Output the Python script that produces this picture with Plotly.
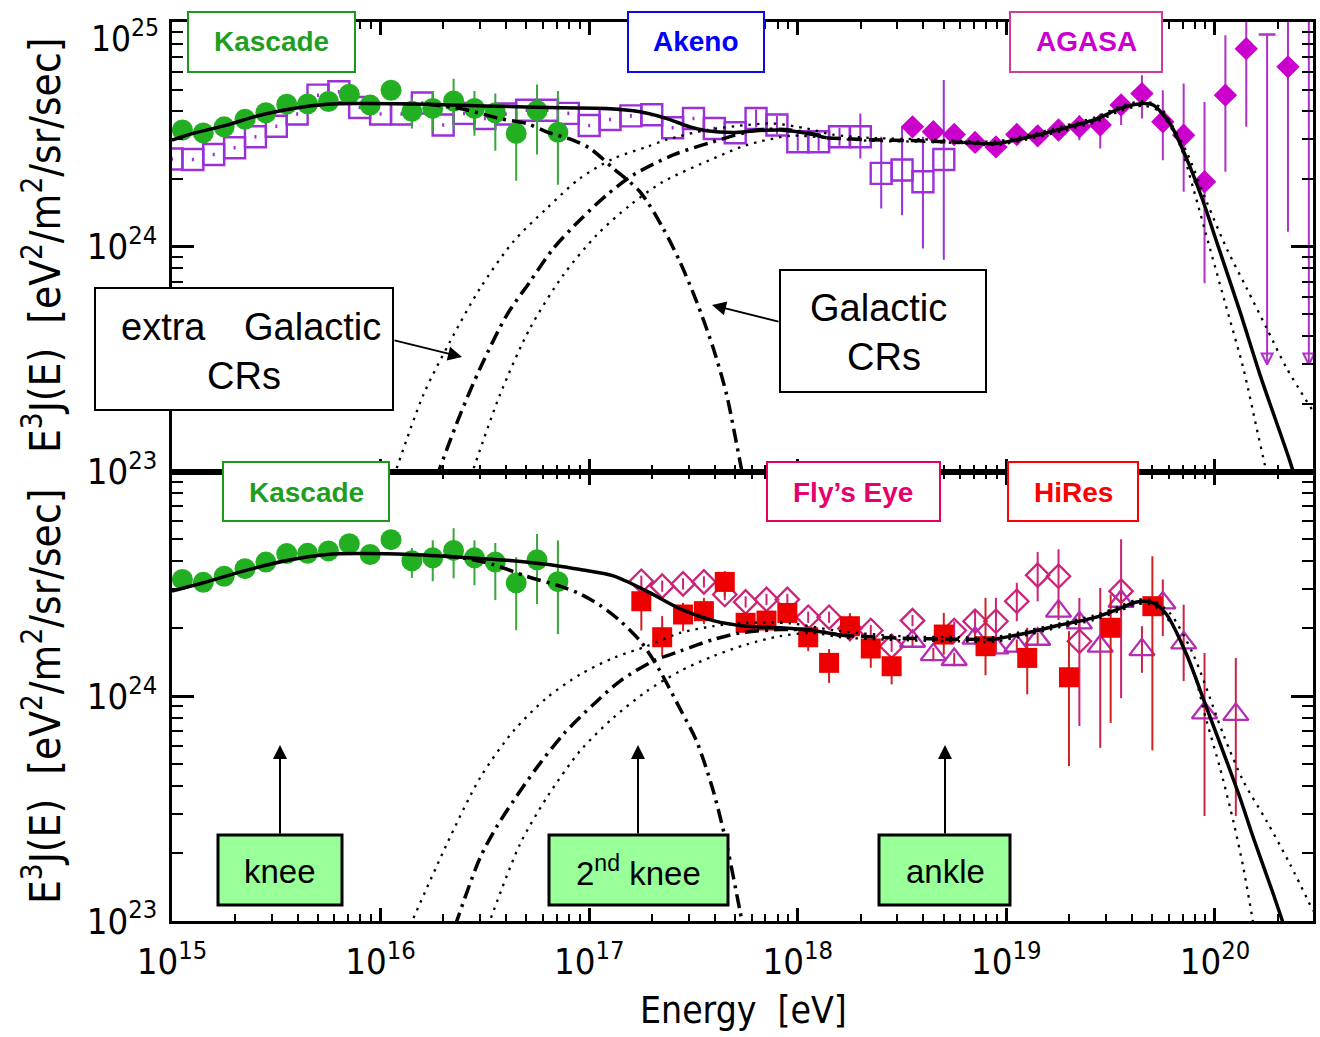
import numpy as np
import plotly.graph_objects as go
from plotly.subplots import make_subplots

# ================= DATA (log10 of E [eV] and log10 of E^3 J(E)) =================
# Kascade (same points in both panels)
kascade_logE = [15.05, 15.15, 15.25, 15.35, 15.45, 15.55, 15.65, 15.75, 15.85, 15.95,
                16.05, 16.15, 16.25, 16.35, 16.45, 16.55, 16.65, 16.75, 16.85]
kascade_logF = [24.519, 24.506, 24.533, 24.567, 24.596, 24.634, 24.635, 24.646, 24.678, 24.630,
                24.696, 24.602, 24.615, 24.648, 24.615, 24.596, 24.504, 24.606, 24.509]
kascade_up = [0, 0, 0, 0, 0, 0, 0, 0, 0, 0,
              0, 0.057, 0.078, 0.099, 0.078, 0.085, 0.114, 0.115, 0.184]
kascade_dn = [0, 0, 0, 0, 0, 0, 0, 0, 0, 0,
              0, 0.076, 0.104, 0.124, 0.122, 0.169, 0.211, 0.196, 0.233]

# Akeno (top panel)
akeno_logE = [15.0, 15.1, 15.2, 15.3, 15.4, 15.5, 15.6, 15.7, 15.8, 15.9,
              16.0, 16.1, 16.2, 16.3, 16.4, 16.5, 16.6, 16.7, 16.8, 16.9,
              17.0, 17.1, 17.2, 17.3, 17.4, 17.5, 17.6, 17.7, 17.8, 17.9,
              18.0, 18.1, 18.2, 18.3, 18.4, 18.5, 18.6, 18.7]
akeno_logF = [24.390, 24.388, 24.410, 24.440, 24.489, 24.536, 24.590, 24.674, 24.689, 24.619,
              24.590, 24.590, 24.639, 24.541, 24.593, 24.570, 24.590, 24.607, 24.607, 24.593,
              24.539, 24.566, 24.582, 24.587, 24.529, 24.570, 24.526, 24.507, 24.570, 24.541,
              24.467, 24.467, 24.489, 24.489, 24.326, 24.341, 24.289, 24.388]
akeno_up = [0.008, 0.008, 0.008, 0.008, 0.008, 0.008, 0.008, 0.008, 0.008, 0.008,
            0.008, 0.008, 0.008, 0.008, 0.008, 0.008, 0.008, 0.008, 0.008, 0.008,
            0.008, 0.008, 0.008, 0.008, 0.008, 0.008, 0.008, 0.008, 0.040, 0.040,
            0.040, 0.040, 0.040, 0.103, 0.163, 0.192, 0.200, 0.354]
akeno_dn = [0.008, 0.008, 0.008, 0.008, 0.008, 0.008, 0.008, 0.008, 0.008, 0.008,
            0.008, 0.008, 0.008, 0.008, 0.008, 0.008, 0.008, 0.008, 0.008, 0.008,
            0.008, 0.008, 0.008, 0.008, 0.008, 0.008, 0.008, 0.008, 0.040, 0.040,
            0.040, 0.040, 0.040, 0.097, 0.156, 0.201, 0.297, 0.446]

# AGASA (top panel)
agasa_logE = [18.55, 18.65, 18.75, 18.85, 18.95, 19.05, 19.15, 19.25, 19.35, 19.45,
              19.55, 19.65, 19.75, 19.85, 19.95, 20.05, 20.15, 20.35]
agasa_logF = [24.533, 24.511, 24.499, 24.464, 24.444, 24.499, 24.493, 24.519, 24.533, 24.541,
              24.630, 24.681, 24.556, 24.496, 24.289, 24.674, 24.881, 24.800]
agasa_up = [0.020, 0.020, 0.020, 0.025, 0.025, 0.030, 0.030, 0.030, 0.052, 0.044,
            0.044, 0.082, 0.140, 0.230, 0.355, 0.267, 0.300, 0.300]
agasa_dn = [0.020, 0.020, 0.020, 0.025, 0.030, 0.030, 0.030, 0.035, 0.059, 0.104,
            0.089, 0.111, 0.171, 0.252, 0.452, 0.341, 0.348, 0.733]
agasa_ul_logE = [20.25, 20.45]
agasa_ul_top = [24.944, 25.05]
agasa_ul_logF = [23.476, 23.476]

# Fly's Eye (bottom panel)
fly_logE = [17.25, 17.35, 17.45, 17.55, 17.65, 17.75, 17.85, 17.95, 18.05, 18.15,
            18.25, 18.35, 18.45, 18.55, 18.75, 18.85, 18.95, 19.05, 19.15, 19.25,
            19.35, 19.55]
fly_logF = [24.511, 24.489, 24.499, 24.508, 24.452, 24.419, 24.430, 24.430, 24.351, 24.351,
            24.301, 24.292, 24.222, 24.336, 24.292, 24.333, 24.333, 24.422, 24.538, 24.533,
            24.244, 24.467]
fly_up = [0.025, 0.025, 0.025, 0.025, 0.025, 0.025, 0.025, 0.025, 0.025, 0.025,
          0.025, 0.025, 0.025, 0.025, 0.040, 0.050, 0.104, 0.082, 0.103, 0.120,
          0.193, 0.231]
fly_dn = [0.025, 0.025, 0.025, 0.025, 0.025, 0.025, 0.025, 0.025, 0.025, 0.025,
          0.025, 0.025, 0.025, 0.025, 0.040, 0.050, 0.102, 0.089, 0.116, 0.142,
          0.377, 0.476]

# HiRes (bottom panel, filled squares)
hires_logE = [17.25, 17.35, 17.45, 17.55, 17.65, 17.75, 17.85, 17.95, 18.05, 18.15,
              18.25, 18.35, 18.45, 18.7, 18.9, 19.1, 19.3, 19.5, 19.7]
hires_logF = [24.422, 24.262, 24.363, 24.378, 24.508, 24.326, 24.336, 24.370, 24.262, 24.148,
              24.311, 24.212, 24.133, 24.274, 24.222, 24.170, 24.084, 24.304, 24.400]
hires_up = [0.067, 0.094, 0.052, 0.059, 0.048, 0.030, 0.030, 0.030, 0.049, 0.061,
            0.058, 0.032, 0.037, 0.096, 0.215, 0.134, 0.205, 0.148, 0.222]
hires_dn = [0.130, 0.084, 0.074, 0.057, 0.064, 0.030, 0.030, 0.030, 0.062, 0.089,
            0.067, 0.086, 0.081, 0.089, 0.129, 0.162, 0.395, 0.423, 0.641]

# HiRes (bottom panel, open triangles)
tri_logE = [18.55, 18.65, 18.75, 18.85, 18.95, 19.05, 19.15, 19.25, 19.35, 19.45,
            19.55, 19.65, 19.75, 19.85, 19.95, 20.1]
tri_logF = [24.244, 24.185, 24.163, 24.258, 24.215, 24.222, 24.253, 24.378, 24.326, 24.222,
            24.422, 24.207, 24.415, 24.237, 23.926, 23.919]
tri_up = [0.03, 0.03, 0.03, 0.03, 0.03, 0.03, 0.03, 0.04, 0.04, 0.259,
          0.06, 0.104, 0.104, 0.170, 0.266, 0.251]
tri_dn = [0.03, 0.03, 0.03, 0.03, 0.03, 0.03, 0.03, 0.04, 0.04, 0.452,
          0.06, 0.103, 0.148, 0.170, 0.459, 0.452]

# ---- model curves, top panel ----
tot_top_a_logE = [15.000, 15.102, 15.262, 15.422, 15.582, 15.742, 15.901, 16.221, 16.540, 16.860,
                  17.084, 17.244, 17.372, 17.483, 17.563, 17.689, 17.803, 17.915, 18.043, 18.139]
tot_top_a_logF = [24.474, 24.504, 24.541, 24.585, 24.615, 24.634, 24.637, 24.634, 24.625, 24.618,
                  24.615, 24.600, 24.570, 24.533, 24.516, 24.508, 24.516, 24.519, 24.504, 24.484]
tot_top_dash_logE = [18.139, 18.346, 18.586, 18.793]
tot_top_dash_logF = [24.484, 24.476, 24.471, 24.464]
tot_top_b_logE = [18.793, 18.953, 19.113, 19.273, 19.433, 19.545, 19.656, 19.704, 19.784, 19.864,
                  19.944, 20.008, 20.120, 20.216, 20.360, 20.407]
tot_top_b_logF = [24.464, 24.459, 24.489, 24.526, 24.568, 24.615, 24.637, 24.630, 24.548, 24.392,
                  24.200, 24.022, 23.711, 23.430, 23.044, 22.900]
gal_top_logE = [16.221, 16.381, 16.572, 16.700, 16.796, 16.922, 17.004, 17.116, 17.244, 17.355,
                17.435, 17.515, 17.595, 17.659, 17.723, 17.742]
gal_top_logF = [24.634, 24.615, 24.570, 24.548, 24.511, 24.474, 24.437, 24.348, 24.244, 24.081,
                23.933, 23.756, 23.548, 23.341, 23.044, 22.956]
exg_top_logE = [16.266, 16.381, 16.477, 16.605, 16.716, 16.828, 16.956, 17.084, 17.211, 17.403,
                17.595, 17.803, 17.963, 18.139]
exg_top_logF = [22.970, 23.252, 23.459, 23.696, 23.844, 23.992, 24.119, 24.230, 24.319, 24.408,
                24.467, 24.519, 24.519, 24.489]
exg_top_hi_logE = [16.064, 16.205, 16.333, 16.477, 16.636, 16.796, 16.956, 17.116, 17.276, 17.372,
                   17.563, 17.755, 17.881, 18.043, 18.169, 18.346, 18.586, 18.792, 18.953, 19.113,
                   19.273, 19.433, 19.545, 19.656, 19.736, 19.784, 19.864, 19.960, 20.056, 20.152,
                   20.248, 20.344, 20.471]
exg_top_hi_logF = [22.978, 23.341, 23.578, 23.815, 24.022, 24.170, 24.304, 24.392, 24.444, 24.476,
                   24.519, 24.541, 24.548, 24.526, 24.498, 24.484, 24.478, 24.471, 24.469, 24.498,
                   24.536, 24.578, 24.624, 24.647, 24.622, 24.556, 24.422, 24.200, 23.992, 23.815,
                   23.637, 23.459, 23.267]
exg_top_lo_logE = [16.433, 16.572, 16.716, 16.876, 17.036, 17.196, 17.355, 17.595, 17.755, 17.963,
                   18.139, 18.346, 18.586, 18.792, 18.953, 19.113, 19.273, 19.433, 19.545, 19.656,
                   19.736, 19.832, 19.896, 19.976, 20.056, 20.136, 20.200, 20.232, 20.257]
exg_top_lo_logF = [22.978, 23.341, 23.637, 23.874, 24.052, 24.185, 24.289, 24.392, 24.452, 24.493,
                   24.484, 24.471, 24.467, 24.460, 24.453, 24.480, 24.516, 24.556, 24.604, 24.627,
                   24.600, 24.452, 24.259, 23.992, 23.726, 23.459, 23.192, 23.059, 22.956]

# ---- model curves, bottom panel ----
tot_bot_a_logE = [15.000, 15.150, 15.342, 15.550, 15.742, 15.901, 16.141, 16.381, 16.620, 16.860,
                  16.956, 17.116, 17.276, 17.435, 17.595, 17.755, 17.915, 18.074, 18.202]
tot_bot_a_logF = [24.467, 24.504, 24.556, 24.603, 24.630, 24.634, 24.630, 24.618, 24.603, 24.578,
                  24.563, 24.535, 24.467, 24.389, 24.336, 24.311, 24.304, 24.292, 24.271]
tot_bot_dash_logE = [18.202, 18.490, 18.778, 18.937]
tot_bot_dash_logF = [24.271, 24.258, 24.253, 24.252]
tot_bot_b_logE = [18.937, 19.097, 19.257, 19.417, 19.545, 19.625, 19.704, 19.768, 19.864, 19.960,
                  20.056, 20.120, 20.184, 20.280, 20.360]
tot_bot_b_logF = [24.252, 24.281, 24.316, 24.348, 24.390, 24.419, 24.415, 24.363, 24.185, 23.948,
                  23.711, 23.548, 23.370, 23.119, 22.900]
gal_bot_logE = [16.300, 16.413, 16.540, 16.700, 16.860, 16.956, 17.050, 17.148, 17.252, 17.340,
                17.435, 17.515, 17.595, 17.659, 17.723, 17.742]
gal_bot_logF = [24.624, 24.612, 24.585, 24.533, 24.489, 24.455, 24.405, 24.335, 24.237, 24.111,
                23.945, 23.800, 23.578, 23.341, 23.044, 22.956]
exg_bot_logE = [16.357, 16.477, 16.557, 16.636, 16.748, 16.876, 17.020, 17.148, 17.307, 17.435,
                17.595, 17.723, 17.915, 18.074, 18.202]
exg_bot_logF = [22.978, 23.281, 23.420, 23.533, 23.681, 23.830, 23.963, 24.067, 24.156, 24.200,
                24.252, 24.281, 24.296, 24.292, 24.271]
exg_bot_hi_logE = [16.141, 16.317, 16.477, 16.636, 16.796, 16.956, 17.116, 17.276, 17.435, 17.595,
                   17.755, 17.963, 18.202, 18.490, 18.778, 18.937, 19.097, 19.257, 19.417, 19.545,
                   19.625, 19.704, 19.784, 19.896, 20.040, 20.136, 20.248, 20.360, 20.471]
exg_bot_hi_logF = [22.978, 23.341, 23.637, 23.844, 23.992, 24.096, 24.170, 24.222, 24.281, 24.311,
                   24.326, 24.324, 24.289, 24.267, 24.262, 24.262, 24.291, 24.324, 24.358, 24.400,
                   24.429, 24.424, 24.369, 24.185, 23.830, 23.622, 23.444, 23.252, 23.044]
exg_bot_lo_logE = [16.515, 16.668, 16.796, 16.956, 17.116, 17.276, 17.435, 17.595, 17.755, 17.915,
                   18.074, 18.202, 18.490, 18.778, 18.937, 19.097, 19.257, 19.417, 19.545, 19.625,
                   19.704, 19.800, 19.896, 19.960, 20.024, 20.088, 20.136, 20.176, 20.190]
exg_bot_lo_logF = [22.978, 23.341, 23.548, 23.756, 23.904, 24.022, 24.111, 24.178, 24.230, 24.267,
                   24.281, 24.262, 24.249, 24.244, 24.242, 24.271, 24.307, 24.338, 24.380, 24.409,
                   24.404, 24.310, 24.111, 23.889, 23.681, 23.444, 23.237, 23.030, 22.956]

# ================= FIGURE =================
W, H = 1320, 1037
ML, MR, MT, MB = 172, 7, 22, 116
FONT = "DejaVu Sans Condensed, DejaVu Sans, sans-serif"
ARIAL = "Liberation Sans, Arial, sans-serif"


def pxx(x):
    return (x - ML) / (W - ML - MR)


def pyy(y):
    return (H - MB - y) / (H - MT - MB)


fig = make_subplots(rows=2, cols=1, shared_xaxes=True, vertical_spacing=0)


def lin(v):
    return 10 ** np.asarray(v, dtype=float)


def add_points(logE, logF, up, dn, row, symbol, size, color, lw, ecolor, ethick=2):
    y = lin(logF)
    eu = lin(np.asarray(logF) + np.asarray(up)) - y
    ed = y - lin(np.asarray(logF) - np.asarray(dn))
    fig.add_trace(go.Scatter(
        x=lin(logE), y=y, mode="markers", showlegend=False, hoverinfo="skip",
        marker=dict(symbol=symbol, size=size, color=color, line=dict(width=lw, color=color)),
        error_y=dict(type="data", symmetric=False, array=eu, arrayminus=ed,
                     color=ecolor, thickness=ethick, width=0)),
        row=row, col=1)


def add_curve(logE, logF, row, dash="solid", width=3.5):
    fig.add_trace(go.Scatter(
        x=lin(logE), y=lin(logF), mode="lines", showlegend=False, hoverinfo="skip",
        line=dict(color="black", width=width, dash=dash, shape="spline", smoothing=0.8)),
        row=row, col=1)


GREEN = "#22b022"
PURPLE = "#9b30d9"
MAGENTA = "#cc00cc"
FLY = "#cc2277"
RED = "#ee0000"
TRI = "#b42cb4"

DASHDOT = "14px,6px,3px,6px"
DOT = "2.5px,6px"
DASH = "14px,7px"

# ---- top panel (row 1) ----
add_points(akeno_logE, akeno_logF, akeno_up, akeno_dn, 1, "square-open", 21, PURPLE, 2.4, PURPLE)
add_points(kascade_logE, kascade_logF, kascade_up, kascade_dn, 1, "circle", 21, GREEN, 0, "#3aa53a")
add_points(agasa_logE, agasa_logF, agasa_up, agasa_dn, 1, "diamond", 18, MAGENTA, 0, "#b030c8")
# AGASA upper limits
ul_x, ul_y = [], []
for e, t, b in zip(agasa_ul_logE, agasa_ul_top, agasa_ul_logF):
    ul_x += [10 ** e, 10 ** e, None]
    ul_y += [10 ** t, 10 ** b, None]
fig.add_trace(go.Scatter(x=ul_x, y=ul_y, mode="lines", showlegend=False, hoverinfo="skip",
                         line=dict(color="#b030c8", width=2)), row=1, col=1)
fig.add_trace(go.Scatter(x=lin(agasa_ul_logE), y=lin(agasa_ul_logF), mode="markers",
                         showlegend=False, hoverinfo="skip",
                         marker=dict(symbol="arrow-down-open", size=11, color="#b030c8",
                                     line=dict(width=2, color="#b030c8"))), row=1, col=1)
fig.add_trace(go.Scatter(x=lin(agasa_ul_logE[:1]), y=lin(agasa_ul_top[:1]), mode="markers",
                         showlegend=False, hoverinfo="skip",
                         marker=dict(symbol="line-ew", size=12, color="#b030c8",
                                     line=dict(width=2.5, color="#b030c8"))), row=1, col=1)

add_curve(exg_top_hi_logE, exg_top_hi_logF, 1, DOT, 2.3)
add_curve(exg_top_lo_logE, exg_top_lo_logF, 1, DOT, 2.3)
add_curve(gal_top_logE, gal_top_logF, 1, DASHDOT, 3.5)
add_curve(exg_top_logE, exg_top_logF, 1, DASHDOT, 3.5)
add_curve(tot_top_a_logE, tot_top_a_logF, 1, "solid", 3.5)
add_curve(tot_top_dash_logE, tot_top_dash_logF, 1, DASH, 3.5)
add_curve(tot_top_b_logE, tot_top_b_logF, 1, "solid", 3.5)

# ---- bottom panel (row 2) ----
add_points(kascade_logE, kascade_logF, kascade_up, kascade_dn, 2, "circle", 21, GREEN, 0, "#3aa53a")
add_points(fly_logE, fly_logF, fly_up, fly_dn, 2, "diamond-open", 18, FLY, 2.3, FLY)
add_points(tri_logE, tri_logF, tri_up, tri_dn, 2, "triangle-up-open", 22, TRI, 2.3, "#cc2244")
add_points(hires_logE, hires_logF, hires_up, hires_dn, 2, "square", 20, RED, 0, "#cc2222")

add_curve(exg_bot_hi_logE, exg_bot_hi_logF, 2, DOT, 2.3)
add_curve(exg_bot_lo_logE, exg_bot_lo_logF, 2, DOT, 2.3)
add_curve(gal_bot_logE, gal_bot_logF, 2, DASHDOT, 3.5)
add_curve(exg_bot_logE, exg_bot_logF, 2, DASHDOT, 3.5)
add_curve(tot_bot_a_logE, tot_bot_a_logF, 2, "solid", 3.5)
add_curve(tot_bot_dash_logE, tot_bot_dash_logF, 2, DASH, 3.5)
add_curve(tot_bot_b_logE, tot_bot_b_logF, 2, "solid", 3.5)

# ---- axes ----
tickfont = dict(family=FONT, size=29, color="black")
fig.update_xaxes(type="log", range=[15, 20.47], dtick=1, exponentformat="power",
                 showexponent="all", ticks="inside", ticklen=13, tickwidth=2.5,
                 tickcolor="black", showline=True, linecolor="black", linewidth=3,
                 mirror="allticks", showgrid=False, zeroline=False, tickfont=tickfont,
                 ticklabelstandoff=8, ticklabeloverflow="allow", automargin=False,
                 minor=dict(ticks="inside", ticklen=7, tickwidth=2, tickcolor="black",
                            dtick="D1", showgrid=False))
fig.update_xaxes(showticklabels=False, row=1, col=1)
fig.update_yaxes(type="log", dtick=1, exponentformat="power", showexponent="all",
                 ticks="inside", ticklen=22, tickwidth=2.5, tickcolor="black",
                 showline=True, linecolor="black", linewidth=3, mirror="allticks",
                 showgrid=False, zeroline=False, tickfont=tickfont, ticklabelstandoff=6,
                 ticklabeloverflow="allow", automargin=False,
                 minor=dict(ticks="inside", ticklen=11, tickwidth=2, tickcolor="black",
                            dtick="D1", showgrid=False))
fig.update_yaxes(range=[23, 24.9995], row=1, col=1)
fig.update_yaxes(range=[23, 24.999], row=2, col=1)

# ---- boxes and labels ----
shapes = []
annotations = []


def box(x0, y0, x1, y1, border, fill="white", width=2):
    shapes.append(dict(type="rect", xref="paper", yref="paper",
                       x0=pxx(x0), x1=pxx(x1), y0=pyy(y1), y1=pyy(y0),
                       line=dict(color=border, width=width), fillcolor=fill, layer="above"))


def text(cx, cy, s, color="black", size=28, bold=False, family=ARIAL):
    annotations.append(dict(xref="paper", yref="paper", x=pxx(cx), y=pyy(cy), text=s,
                            showarrow=False, xanchor="center", yanchor="middle",
                            font=dict(family=family, size=size, color=color,
                                      weight="bold" if bold else "normal")))


def arrow(hx, hy, tx, ty):
    annotations.append(dict(xref="paper", yref="paper", x=pxx(hx), y=pyy(hy), text="",
                            showarrow=True, ax=tx - hx, ay=ty - hy, arrowhead=2,
                            arrowsize=1.4, arrowwidth=2, arrowcolor="black"))


# top-most y tick label (placed just below the frame corner, as in the original)
annotations.append(dict(xref="paper", yref="paper", x=pxx(161), y=pyy(36),
                        text="10<sup>25</sup>", showarrow=False, xanchor="right",
                        yanchor="middle", font=dict(family=FONT, size=35, color="black")))

# experiment labels, top
box(188, 12, 355, 72, "#1a9a1a"); text(271, 42, "Kascade", "#1f9f1f", 28, True)
box(628, 12, 764, 72, "#0a0aee"); text(696, 42, "Akeno", "#0000ff", 28, True)
box(1010, 12, 1162, 72, "#d03c9c"); text(1086, 42, "AGASA", "#cc00cc", 28, True)
# experiment labels, bottom
box(223, 462, 389, 521, "#1a9a1a"); text(306, 492, "Kascade", "#1f9f1f", 28, True)
box(767, 462, 940, 521, "#e6005c"); text(853, 492, "Fly’s Eye", "#e6006e", 28, True)
box(1008, 462, 1138, 521, "#ff0000"); text(1073, 492, "HiRes", "#ff0000", 28, True)

# component labels
box(95, 288, 393, 410, "black")
text(163, 327, "extra", size=38); text(312, 327, "Galactic", size=38)
text(244, 376, "CRs", size=38)
arrow(462, 357, 393, 340)
box(780, 270, 986, 392, "black")
text(878, 308, "Galactic", size=38); text(884, 357, "CRs", size=38)
arrow(712, 305, 780, 322)

# feature labels
for cx, x0, x1, s in [(280, 218, 342, "knee"), (638, 549, 728, "2<sup>nd</sup> knee"),
                      (945, 879, 1010, "ankle")]:
    box(x0, 835, x1, 905, "black", "#99ff99", 3)
    text(cx, 871, s, size=33)
    arrow(cx, 745, cx, 835)

# axis titles
ytitle = "E<sup>3</sup>J(E)  [eV<sup>2</sup>/m<sup>2</sup>/sr/sec]"
for cy in (246, 697):
    annotations.append(dict(xref="paper", yref="paper", x=pxx(42), y=pyy(cy), text=ytitle,
                            textangle=-90, showarrow=False, xanchor="center", yanchor="middle",
                            font=dict(family=FONT, size=42, color="black")))
annotations.append(dict(xref="paper", yref="paper", x=pxx(743), y=pyy(1010),
                        text="Energy  [eV]", showarrow=False, xanchor="center",
                        yanchor="middle", font=dict(family=FONT, size=37, color="black")))

fig.update_layout(width=W, height=H, margin=dict(l=ML, r=MR, t=MT, b=MB, autoexpand=False),
                  plot_bgcolor="white", paper_bgcolor="white", showlegend=False,
                  shapes=shapes, annotations=annotations)

fig.write_html("out.html", config={"displayModeBar": False},
               post_script="document.body.style.margin='0';")
